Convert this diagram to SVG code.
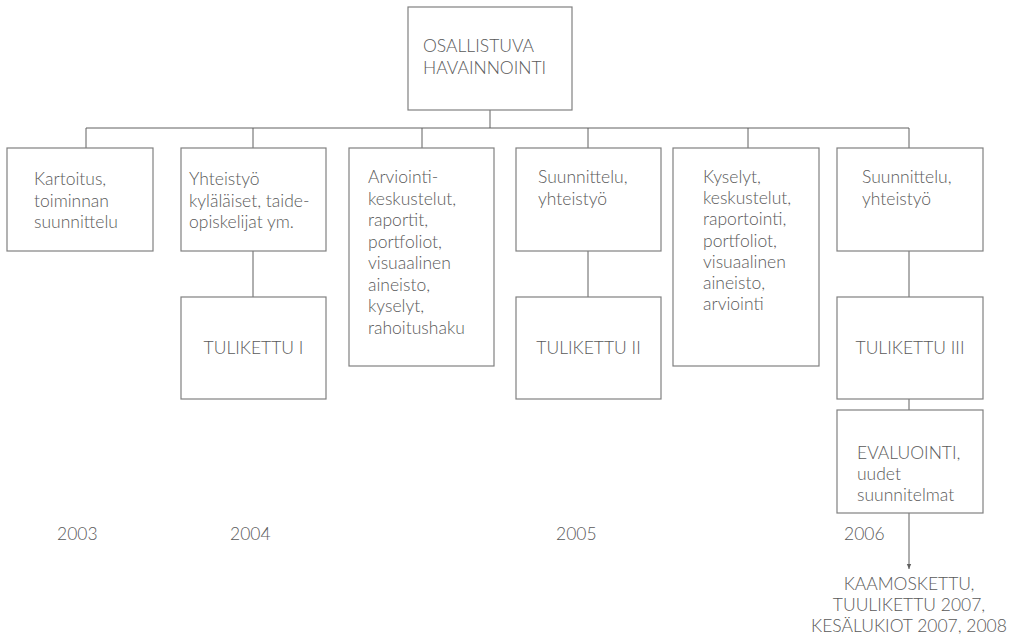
<svg xmlns="http://www.w3.org/2000/svg" width="1021" height="637" viewBox="0 0 1021 637">
<defs>
<style>
.box{fill:#fff;stroke:#808080;stroke-width:1.2}
.t{font-family:Lato,"Liberation Sans",sans-serif;font-weight:300;font-size:17.5px;fill:#5a5a5a}
.c{fill:none;stroke:#606060;stroke-width:1}
.m{text-anchor:middle}
</style>
<marker id="arr" markerWidth="6" markerHeight="6" refX="5" refY="3" orient="auto" markerUnits="userSpaceOnUse">
<path d="M0,0.8 L5,3 L0,5.2 Z" fill="#606060"/>
</marker>
</defs>
<rect width="1021" height="637" fill="#fff"/>
<g id="connectors">
<path class="c" d="M490,110 V128 M86,128 H909 M86,128 V148 M253,128 V148 M422,128 V148 M588,128 V148 M748,128 V148 M909,128 V148"/>
<path class="c" d="M253,251 V297 M588,251 V297 M909,251 V297 M909,399 V410"/>
<path class="c" d="M909,513 V569" marker-end="url(#arr)"/>
</g>
<g id="n-top">
<rect class="box" x="408" y="7" width="164" height="103"/>
<text class="t" x="423" y="52">OSALLISTUVA</text>
<text class="t" x="423" y="73.5">HAVAINNOINTI</text>
</g>
<g id="n-kartoitus">
<rect class="box" x="7" y="148" width="146" height="103"/>
<text class="t" x="34" y="185">Kartoitus,</text>
<text class="t" x="34" y="206.5">toiminnan</text>
<text class="t" x="34" y="228">suunnittelu</text>
</g>
<g id="n-yhteistyo">
<rect class="box" x="181" y="148" width="145" height="103"/>
<text class="t" x="189" y="185">Yhteistyö</text>
<text class="t" x="189" y="206.5">kyläläiset, taide-</text>
<text class="t" x="189" y="228">opiskelijat ym.</text>
</g>
<g id="n-tulikettu1">
<rect class="box" x="181" y="297" width="145" height="102"/>
<text class="t m" x="253.5" y="354">TULIKETTU I</text>
</g>
<g id="n-arviointi">
<rect class="box" x="349" y="148" width="145" height="218"/>
<text class="t" x="368" y="183">Arviointi-</text>
<text class="t" x="368" y="204.5">keskustelut,</text>
<text class="t" x="368" y="226">raportit,</text>
<text class="t" x="368" y="247.5">portfoliot,</text>
<text class="t" x="368" y="269">visuaalinen</text>
<text class="t" x="368" y="290.5">aineisto,</text>
<text class="t" x="368" y="312">kyselyt,</text>
<text class="t" x="368" y="333.5">rahoitushaku</text>
</g>
<g id="n-suunnittelu1">
<rect class="box" x="516" y="148" width="145" height="103"/>
<text class="t" x="538" y="183">Suunnittelu,</text>
<text class="t" x="538" y="205">yhteistyö</text>
</g>
<g id="n-tulikettu2">
<rect class="box" x="516" y="297" width="145" height="102"/>
<text class="t m" x="588.5" y="354">TULIKETTU II</text>
</g>
<g id="n-kyselyt">
<rect class="box" x="673" y="148" width="146" height="218"/>
<text class="t" x="703" y="183">Kyselyt,</text>
<text class="t" x="703" y="204.2">keskustelut,</text>
<text class="t" x="703" y="225.4">raportointi,</text>
<text class="t" x="703" y="246.6">portfoliot,</text>
<text class="t" x="703" y="267.8">visuaalinen</text>
<text class="t" x="703" y="289">aineisto,</text>
<text class="t" x="703" y="310.2">arviointi</text>
</g>
<g id="n-suunnittelu2">
<rect class="box" x="837" y="148" width="146" height="103"/>
<text class="t" x="862" y="183">Suunnittelu,</text>
<text class="t" x="862" y="205">yhteistyö</text>
</g>
<g id="n-tulikettu3">
<rect class="box" x="837" y="297" width="146" height="102"/>
<text class="t m" x="910" y="354">TULIKETTU III</text>
</g>
<g id="n-evaluointi">
<rect class="box" x="837" y="410" width="146" height="103"/>
<text class="t" x="857" y="459">EVALUOINTI,</text>
<text class="t" x="857" y="480">uudet</text>
<text class="t" x="857" y="501">suunnitelmat</text>
</g>
<g id="years">
<text class="t" x="57" y="540">2003</text>
<text class="t" x="230" y="540">2004</text>
<text class="t" x="556" y="540">2005</text>
<text class="t" x="844" y="540">2006</text>
</g>
<g id="n-future">
<text class="t m" x="909" y="590">KAAMOSKETTU,</text>
<text class="t m" x="909" y="611">TUULIKETTU 2007,</text>
<text class="t m" x="909" y="632">KESÄLUKIOT 2007, 2008</text>
</g>
</svg>
